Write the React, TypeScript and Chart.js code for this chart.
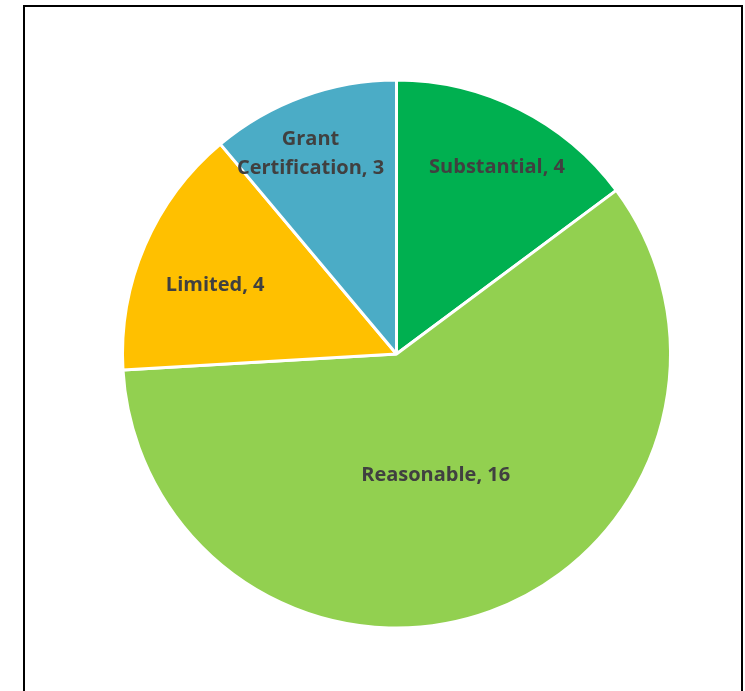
import React, { useEffect, useRef } from "react";
import { Chart, registerables } from "chart.js";

Chart.register(...registerables);

const categories = ["Substantial", "Reasonable", "Limited", "Grant Certification"];
const values = [4, 16, 4, 3];
const colors = ["#00B050", "#92D050", "#FFC000", "#4BACC6"];
const labelRadiusFractions = [0.78, 0.458, 0.711, 0.803];
const labelAngleShiftsDeg = [1.4, 1.8, -1.9, -3];

const FONT = "bold 20px 'Open Sans', Lato, sans-serif";

const pieLabels = {
  id: "pieLabels",
  afterDatasetsDraw(chart: any) {
    const ctx = chart.ctx;
    const meta = chart.getDatasetMeta(0);
    const data = chart.data.datasets[0].data;
    const labels = chart.data.labels;
    ctx.save();
    ctx.font = FONT;
    ctx.fillStyle = "#404040";
    ctx.textAlign = "center";
    ctx.textBaseline = "middle";
    meta.data.forEach((arc: any, i: number) => {
      const p = arc.getProps(["x", "y", "startAngle", "endAngle", "outerRadius"], true);
      const mid = (p.startAngle + p.endAngle) / 2 + (labelAngleShiftsDeg[i] * Math.PI) / 180;
      const r = p.outerRadius * labelRadiusFractions[i];
      const cx = p.x + Math.cos(mid) * r;
      const cy = p.y + Math.sin(mid) * r + 2;
      const text = `${labels[i]}, ${data[i]}`;
      const words = text.split(" ");
      const lines: string[] = [];
      let cur = "";
      for (const w of words) {
        const test = cur ? cur + " " + w : w;
        if (cur && ctx.measureText(test).width > 180) {
          lines.push(cur);
          cur = w;
        } else cur = test;
      }
      if (cur) lines.push(cur);
      const lh = 29;
      lines.forEach((ln, k) => {
        ctx.fillText(ln, cx, cy + (k - (lines.length - 1) / 2) * lh);
      });
    });
    ctx.restore();
  },
};

export default function App() {
  const ref = useRef<HTMLCanvasElement>(null);
  useEffect(() => {
    if (!ref.current) return;
    const chart = new Chart(ref.current, {
      type: "pie",
      data: {
        labels: categories,
        datasets: [
          {
            data: values,
            backgroundColor: colors,
            borderColor: "#FFFFFF",
            borderWidth: 3,
          },
        ],
      },
      options: {
        responsive: false,
        maintainAspectRatio: false,
        animation: false,
        radius: 274,
        layout: { padding: { left: 96.5, right: 48.5, top: 54, bottom: 37 } },
        plugins: { legend: { display: false }, tooltip: { enabled: false } },
      } as any,
      plugins: [pieLabels],
    });
    return () => chart.destroy();
  }, []);
  return (
    <div style={{ position: "fixed", left: 0, top: 0, width: 745, height: 691, background: "#fff", overflow: "hidden" }}>
      <div
        style={{
          position: "absolute",
          left: 23,
          top: 5,
          width: 720,
          height: 720,
          border: "2px solid #000",
          boxSizing: "border-box",
        }}
      />
      <canvas ref={ref} width={745} height={691} style={{ position: "absolute", left: 0, top: 0 }} />
    </div>
  );
}
